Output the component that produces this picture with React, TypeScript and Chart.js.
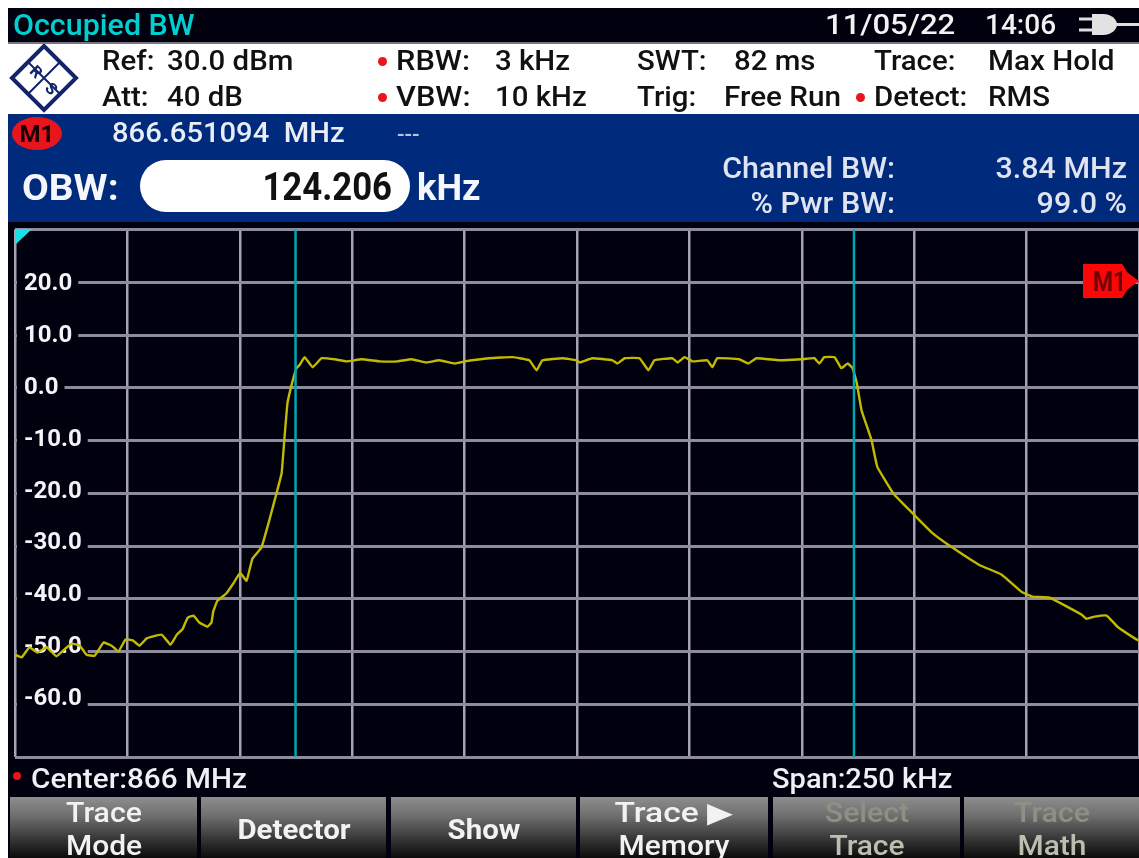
import React, { useEffect, useRef } from "react";
import { Chart, registerables } from "chart.js";

Chart.register(...registerables);

const offsetsKHz = [
  -125, -123.5, -121.8, -120, -118, -115.8, -114, -112.4, -110.6, -109.1, -107.3, -105.3, -103.5, -102, -100.4, -98.8,
  -97.3, -95.7, -92.4, -90.4, -89, -87.7, -86.6, -85.3, -84, -82.2, -81.3, -80.9, -80, -78, -76.6, -74.9, -73.5, -72.2,
  -70.2, -68.4, -66.8, -65.7, -65.1, -64.4, -63.5, -62.8, -62.4, -61.7, -60.6, -58.8, -56.8, -53.9, -51.3, -47.9, -43.9,
  -39.9, -36.8, -33.5, -30.6, -27.2, -25, -19.5, -14.3, -10.6, -9, -7.7, -3.2, -0.1, 0.6, 3.4, 7.9, 9, 10.6, 13.9, 15.9,
  17.2, 21.2, 22.4, 23.9, 25.7, 29, 30.1, 31.2, 36.1, 38.1, 39.9, 45, 49.9, 52.8, 53.9, 55, 57.3, 58.8, 60.2, 61.3, 62.2,
  63.3, 65.5, 66.8, 70.6, 75, 79, 83.5, 89.5, 94.4, 98.9, 101.3, 105.1, 112.2, 113.3, 115.1, 117.8, 120.2, 124.4, 125,
];
const levelsDbm = [
  -50.6, -51.1, -49.2, -50.2, -49.2, -50.9, -49.6, -48.5, -48.9, -50.6, -50.8, -48.3, -48.9, -50, -47.7, -47.9, -48.9,
  -47.5, -46.8, -48.7, -46.8, -45.7, -43.6, -43.2, -44.5, -45.3, -44.5, -42.4, -40.4, -39, -37.3, -35.1, -36.6, -32.4,
  -30.3, -25, -19.9, -16.2, -9.9, -2.9, 0.5, 2.7, 3.7, 4.3, 5.8, 3.9, 5.6, 5.4, 5, 5.4, 5, 5, 5.4, 4.8, 5.2, 4.6, 5, 5.6,
  5.8, 5.2, 3.3, 5.2, 5.6, 5.2, 4.8, 5.6, 5.2, 4.6, 5.6, 5.6, 3.3, 5.2, 5.6, 4.8, 5.8, 5, 5.2, 3.9, 5.6, 5.4, 4.6, 5.6,
  5.2, 5.4, 5.6, 4.6, 5.8, 5.8, 3.7, 4.6, 3.7, 1, -4.3, -9.9, -15, -20.3, -24.1, -27.5, -30.3, -33.6, -35.4, -38.7, -39.6,
  -39.8, -43, -43.8, -43.4, -43.2, -45.3, -47.7, -47.9,
];
const obwEdgesKHz = [-62.6, 61.6];
const levelRange = [-70, 30];
const levelLabelRange = [-71.18, 30.51];
const levelLabels = [20, 10, 0, -10, -20, -30, -40, -50, -60];
const spanRange = [-125, 125];
const softKeys = [
  { top: "Trace", bottom: "Mode" },
  { top: "", bottom: "", mid: "Detector" },
  { top: "", bottom: "", mid: "Show" },
  { top: "Trace ▶", bottom: "Memory" },
  { top: "Select", bottom: "Trace", dim: true },
  { top: "Trace", bottom: "Math", dim: true },
];

const FONT = "Roboto, 'Liberation Sans', sans-serif";
const BG = "#00000f";
const BLUE = "#002b7c";

type TP = {
  x: number; y: number; s?: number; w?: number; c?: string; a?: "l" | "r" | "c"; sx?: number; children: React.ReactNode;
};
function T({ x, y, s = 28, w = 500, c = "#111", a = "l", sx = 1.05, children }: TP) {
  const tx = a === "l" ? "0%" : a === "r" ? "-100%" : "-50%";
  const origin = a === "l" ? "left" : a === "r" ? "right" : "center";
  return (
    <span style={{
      position: "absolute", left: x, top: y, whiteSpace: "pre", fontFamily: FONT, fontSize: s, fontWeight: w, color: c,
      lineHeight: 1, transform: `translate(${tx}, -50%) scaleX(${sx})`, transformOrigin: origin,
    }}>{children}</span>
  );
}
function Box({ l, t, r, b, bg, style }: { l: number; t: number; r: number; b: number; bg: string; style?: React.CSSProperties }) {
  return <div style={{ position: "absolute", left: l, top: t, width: r - l, height: b - t, background: bg, ...style }} />;
}
const Dot = ({ x, y, r = 4.5 }: { x: number; y: number; r?: number }) => (
  <div style={{ position: "absolute", left: x - r, top: y - r, width: 2 * r, height: 2 * r, borderRadius: "50%", background: "#e8151c" }} />
);

export default function App() {
  const ref = useRef<HTMLCanvasElement>(null);
  useEffect(() => {
    document.body.style.margin = "0";
    document.body.style.background = "#fff";
    const edge = (v: number) => [{ x: v, y: levelRange[0] }, { x: v, y: levelRange[1] }];
    const isLabel = (v: number) => levelLabels.includes(v);
    const chart = new Chart(ref.current!, {
      type: "line",
      data: {
        datasets: [
          { label: "OBW lower", data: edge(obwEdgesKHz[0]), borderColor: "#00a6b4", borderWidth: 2.5, pointRadius: 0, order: 1 },
          { label: "OBW upper", data: edge(obwEdgesKHz[1]), borderColor: "#00a6b4", borderWidth: 2.5, pointRadius: 0, order: 1 },
          { label: "Trace", data: offsetsKHz.map((x, i) => ({ x, y: levelsDbm[i] })), borderColor: "#c2ba00", borderWidth: 2.4, pointRadius: 0, tension: 0.1, borderJoinStyle: "round", order: 2 },
        ],
      },
      options: {
        animation: false,
        responsive: false,
        layout: { padding: { left: 15, top: 229.5, right: 0, bottom: 101 } },
        plugins: { legend: { display: false }, tooltip: { enabled: false } },
        scales: {
          x: {
            type: "linear", min: spanRange[0], max: spanRange[1],
            ticks: { stepSize: 25, display: false },
            grid: { color: "#a5a3b3", lineWidth: 2.5, drawTicks: false, tickLength: 0 },
            border: { display: false },
          },
          y: {
            type: "linear", min: levelRange[0], max: levelRange[1],
            afterFit: (s: any) => { s.width = 0; },
            ticks: { stepSize: 10, display: false },
            grid: { color: "#8d8b9c", lineWidth: 3, drawTicks: false, tickLength: 0 },
            border: { display: false },
          },
          levelLabelAxis: {
            type: "linear", position: "left", min: levelLabelRange[0], max: levelLabelRange[1],
            afterFit: (s: any) => { s.width = 0; },
            afterBuildTicks: (s: any) => { s.ticks = levelLabels.map((value) => ({ value })); },
            ticks: {
              mirror: true, padding: 9, color: "#f4f4f8",
              font: { family: "Roboto", size: 24, weight: "bold" },
              callback: (v: any) => (isLabel(Number(v)) ? Number(v).toFixed(1) : ""),
              showLabelBackdrop: true,
              backdropColor: BG,
              backdropPadding: { left: 7, right: 6, top: 0, bottom: 0 },
            },
            grid: { display: false, drawTicks: false, tickLength: 0 },
            border: { display: false },
          },
        },
      } as any,
    });
    return () => chart.destroy();
  }, []);

  const keys = [[10, 197], [201, 386], [391, 576], [580, 768], [773, 960], [964, 1139]];
  return (
    <div style={{ position: "absolute", left: 0, top: 0, width: 1139, height: 858, overflow: "hidden", background: "#fff", filter: "blur(0.6px)" }}>
      <Box l={8} t={8} r={1139} b={858} bg={BG} />
      <Box l={8} t={42} r={1139} b={44} bg="#77757f" />
      <Box l={8} t={44} r={1139} b={114} bg="#fff" />
      <Box l={8} t={114} r={1139} b={222} bg={BLUE} />
      <canvas ref={ref} width={1139} height={858} style={{ position: "absolute", left: 0, top: 0, display: "block" }} />

      <T x={13} y={25} s={30} c="#00cfcf" sx={1.015}>Occupied BW</T>
      <T x={825} y={25} s={28} c="#f2f2f2" sx={1.11}>11/05/22</T>
      <T x={985} y={25} s={28} c="#f2f2f2" sx={1}>14:06</T>
      <svg width={60} height={26} style={{ position: "absolute", left: 1079, top: 12 }}>
        <path d="M0 7H13M0 18H13M36 12.5H60" stroke="#ddd" strokeWidth={3} fill="none" />
        <path d="M13 2H24C33 2 38 8 38 12.5C38 17 33 23 24 23H13Z" fill="#e2e2e2" />
      </svg>

      <svg width={72} height={70} style={{ position: "absolute", left: 8, top: 44 }}>
        <path d="M36 2L68 34L36 66L4 34Z" fill="none" stroke="#13246b" strokeWidth={4} />
        <path d="M20 18L52 50M52 18L20 50" stroke="#13246b" strokeWidth={2} />
        <text x={28} y={33} fontFamily={FONT} fontSize={16} fontWeight={700} fill="#13246b" textAnchor="middle" transform="rotate(45 28 28)">R</text>
        <text x={43} y={50} fontFamily={FONT} fontSize={16} fontWeight={700} fill="#13246b" textAnchor="middle" transform="rotate(45 43 45)">S</text>
      </svg>
      <T x={102} y={61}>Ref:</T>
      <T x={167} y={61}>30.0 dBm</T>
      <T x={102} y={97}>Att:</T>
      <T x={167} y={97}>40 dB</T>
      <Dot x={382} y={61} /><Dot x={382} y={97} />
      <T x={396} y={61} sx={1.1}>RBW:</T>
      <T x={495} y={61}>3 kHz</T>
      <T x={396} y={97} sx={1.1}>VBW:</T>
      <T x={495} y={97}>10 kHz</T>
      <T x={637} y={61}>SWT:</T>
      <T x={734} y={61}>82 ms</T>
      <T x={637} y={97}>Trig:</T>
      <T x={724} y={97} sx={1.06}>Free Run</T>
      <Dot x={860} y={97} />
      <T x={874} y={61}>Trace:</T>
      <T x={988} y={61} sx={1.06}>Max Hold</T>
      <T x={874} y={97}>Detect:</T>
      <T x={988} y={97}>RMS</T>

      <div style={{ position: "absolute", left: 12, top: 117, width: 50, height: 33, borderRadius: "50%", background: "#e8151c" }} />
      <T x={37} y={134} s={24} w={700} c="#1a0006" a="c" sx={1}>M1</T>
      <T x={112} y={133} s={27} c="#e8edf6" sx={1.08}>866.651094  MHz</T>
      <T x={397} y={135} s={22} c="#b8c2dc" sx={1}>---</T>
      <T x={22} y={188} s={36} w={700} c="#f4f6fb" sx={1.08}>OBW:</T>
      <div style={{ position: "absolute", left: 140, top: 160, width: 270, height: 52, borderRadius: 26, background: "#fff" }} />
      <T x={392} y={187} s={39} w={700} c="#111" a="r" sx={0.89}>124.206</T>
      <T x={417} y={188} s={36} w={700} c="#f4f6fb" sx={1.01}>kHz</T>
      <T x={895} y={168} s={29} c="#dfe4f0" a="r">Channel BW:</T>
      <T x={895} y={203} s={29} c="#dfe4f0" a="r">% Pwr BW:</T>
      <T x={1127} y={168} s={29} c="#dfe4f0" a="r">3.84 MHz</T>
      <T x={1127} y={203} s={29} c="#dfe4f0" a="r">99.0 %</T>

      <div style={{ position: "absolute", left: 15, top: 229, width: 17, height: 16, background: "#19dfe6", clipPath: "polygon(0 0,100% 0,0 100%)" }} />
      <div style={{ position: "absolute", left: 1083, top: 264, width: 56, height: 34, background: "#fb0707", clipPath: "polygon(0 0,70% 0,79% 24%,100% 50%,79% 76%,70% 100%,0 100%)" }} />
      <T x={1093} y={282} s={27} w={700} c="#6d0505" sx={0.85}>M1</T>

      <Dot x={17} y={776} r={4} />
      <T x={31} y={779} s={27} w={500} c="#eef0f4" sx={1.1}>Center:866 MHz</T>
      <T x={772} y={779} s={27} w={500} c="#eef0f4" sx={1.075}>Span:250 kHz</T>

      {softKeys.map((k, i) => {
        const [l, r] = keys[i];
        const cx = (l + r) / 2;
        const fg = k.dim ? "#8f8f84" : "#f2f2f2";
        const fg2 = k.dim ? "#bdbdb0" : "#f2f2f2";
        const topSx = k.top.length > 6 ? 1.2 : 1.08;
        return (
          <React.Fragment key={i}>
            <Box l={l} t={797} r={r} b={858} bg="linear-gradient(#8d8d8d 0%, #707070 30%, #262626 80%, #0c0c0c 100%)" />
            {k.mid ? <T x={cx} y={830} s={28} w={700} c={fg} a="c" sx={1.05}>{k.mid}</T> : null}
            {k.top ? <T x={cx} y={813} s={28} w={500} c={fg} a="c" sx={topSx}>{k.top}</T> : null}
            {k.bottom ? <T x={cx} y={846} s={28} w={500} c={fg2} a="c" sx={1.07}>{k.bottom}</T> : null}
          </React.Fragment>
        );
      })}
    </div>
  );
}
